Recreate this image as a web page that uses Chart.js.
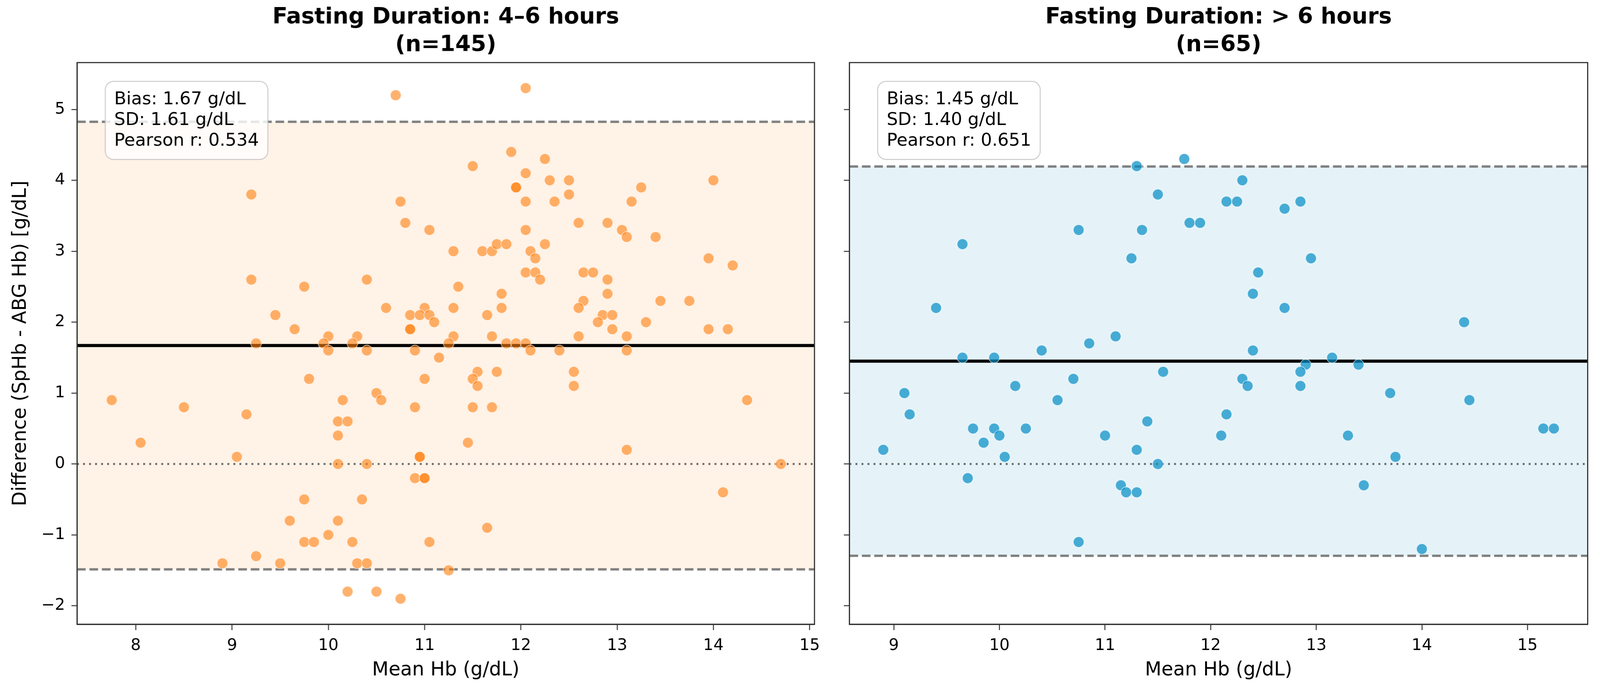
<!DOCTYPE html>
<html>
<head>
<meta charset="utf-8">
<script src="https://cdn.jsdelivr.net/npm/chart.js@4.4.1/dist/chart.umd.min.js"></script>
<style>
  html, body { margin: 0; padding: 0; background: #fff; overflow: hidden; }
  #wrap { position: relative; }
  .panel { position: absolute; top: 0; }
</style>
</head>
<body>
<div id="wrap">
  <div class="panel" id="left"><canvas id="chartShort"></canvas></div>
  <div class="panel" id="right"><canvas id="chartLong"></canvas></div>
</div>
<script>
// Fasting 4-6 hours (n=145): mean Hb vs difference SpHb - ABG Hb
const shortMean = [10.7, 9.2, 10.75, 10.8, 11.05, 9.2, 9.75, 10.4, 10.6, 9.45, 10.85, 11.0, 10.95, 11.05, 11.1, 9.65, 10.85, 10.85, 10.0, 10.3, 9.95, 10.25, 9.25,
  12.05, 11.9, 11.5, 12.25, 12.05, 11.95, 11.95, 12.3, 12.5, 12.5, 12.05, 12.35, 13.25, 13.15, 14.0, 12.6, 12.9, 13.05, 13.1, 13.4,
  12.05, 11.3, 11.6, 11.7, 11.75, 11.85, 12.1, 12.15, 12.25, 13.95, 14.2, 12.05, 12.15, 12.2, 12.65, 12.75, 12.9, 11.35, 11.8, 12.9,
  11.3, 11.8, 11.65, 12.65, 12.6, 13.45, 13.75, 12.85, 12.95, 12.8, 13.3, 12.95, 13.95, 14.15, 11.3, 11.7, 12.6, 13.1, 11.25, 11.85,
  11.95, 12.05, 12.1, 12.4, 13.1,
  10.0, 10.4, 10.9, 11.15, 9.8, 11.0, 7.75, 8.5, 9.15, 10.15, 10.5, 10.55, 10.9, 10.1, 10.2, 10.1, 8.05, 9.05, 10.1, 10.4,
  10.95, 10.95, 10.9, 11.0, 11.0, 9.75, 10.35, 9.6, 10.1, 10.0, 9.75, 9.85, 10.25, 11.05, 9.25, 8.9, 9.5, 10.3, 10.4, 11.25,
  10.2, 10.5, 10.75,
  11.55, 11.5, 11.55, 11.75, 12.55, 12.55, 14.35, 11.5, 11.7, 11.45, 13.1, 14.7, 14.1, 11.65];
const shortDiff = [5.2, 3.8, 3.7, 3.4, 3.3, 2.6, 2.5, 2.6, 2.2, 2.1, 2.1, 2.2, 2.1, 2.1, 2.0, 1.9, 1.9, 1.9, 1.8, 1.8, 1.7, 1.7, 1.7,
  5.3, 4.4, 4.2, 4.3, 4.1, 3.9, 3.9, 4.0, 4.0, 3.8, 3.7, 3.7, 3.9, 3.7, 4.0, 3.4, 3.4, 3.3, 3.2, 3.2,
  3.3, 3.0, 3.0, 3.0, 3.1, 3.1, 3.0, 2.9, 3.1, 2.9, 2.8, 2.7, 2.7, 2.6, 2.7, 2.7, 2.6, 2.5, 2.4, 2.4,
  2.2, 2.2, 2.1, 2.3, 2.2, 2.3, 2.3, 2.1, 2.1, 2.0, 2.0, 1.9, 1.9, 1.9, 1.8, 1.8, 1.8, 1.8, 1.7, 1.7,
  1.7, 1.7, 1.6, 1.6, 1.6,
  1.6, 1.6, 1.6, 1.5, 1.2, 1.2, 0.9, 0.8, 0.7, 0.9, 1.0, 0.9, 0.8, 0.6, 0.6, 0.4, 0.3, 0.1, 0.0, 0.0,
  0.1, 0.1, -0.2, -0.2, -0.2, -0.5, -0.5, -0.8, -0.8, -1.0, -1.1, -1.1, -1.1, -1.1, -1.3, -1.4, -1.4, -1.4, -1.4, -1.5,
  -1.8, -1.8, -1.9,
  1.3, 1.2, 1.1, 1.3, 1.3, 1.1, 0.9, 0.8, 0.8, 0.3, 0.2, 0.0, -0.4, -0.9];

// Fasting > 6 hours (n=65)
const longMean = [11.75, 11.3, 11.5, 11.8, 11.9, 10.75, 11.35, 9.65, 11.25, 9.4, 11.1, 10.85, 10.4,
  12.3, 12.15, 12.25, 12.7, 12.85, 12.95, 12.45, 12.4, 12.7, 14.4, 12.4,
  9.65, 9.95, 11.55, 10.7, 10.15, 10.55, 9.1, 9.15, 9.75, 9.95, 10.0, 10.25, 9.85, 8.9, 10.05, 11.0, 11.4, 11.3, 11.5, 12.1,
  9.7, 11.15, 11.2, 11.3, 10.75,
  13.15, 12.9, 13.4, 12.85, 12.3, 12.35, 12.85, 13.7, 14.45, 12.15, 13.3, 15.15, 15.25, 13.75, 13.45, 14.0];
const longDiff = [4.3, 4.2, 3.8, 3.4, 3.4, 3.3, 3.3, 3.1, 2.9, 2.2, 1.8, 1.7, 1.6,
  4.0, 3.7, 3.7, 3.6, 3.7, 2.9, 2.7, 2.4, 2.2, 2.0, 1.6,
  1.5, 1.5, 1.3, 1.2, 1.1, 0.9, 1.0, 0.7, 0.5, 0.5, 0.4, 0.5, 0.3, 0.2, 0.1, 0.4, 0.6, 0.2, 0.0, 0.4,
  -0.2, -0.3, -0.4, -0.4, -1.1,
  1.5, 1.4, 1.4, 1.3, 1.2, 1.1, 1.1, 1.0, 0.9, 0.7, 0.4, 0.5, 0.5, 0.1, -0.3, -1.2];

// summary stats printed in the boxes
const shortStats = { bias: 1.67, sd: 1.61, r: 0.534 };
const longStats = { bias: 1.45, sd: 1.40, r: 0.651 };

const shortTitle = ['Fasting Duration: 4\u20136 hours', '(n=145)'];
const longTitle = ['Fasting Duration: > 6 hours', '(n=65)'];

const shortXRange = [7.39, 15.05];
const longXRange = [8.58, 15.57];
const yRange = [-2.26, 5.66];

// laid out for a 4259 x 1774 page, stretched to whatever the viewport really is
const Sx = window.innerWidth / 4259;
const Sy = window.innerHeight / 1774;
const Sf = Math.sqrt(Sx * Sy);
const hx = v => v * Sx;
const vy = v => v * Sy;
const fs = v => v * Sf;

const wrap = document.getElementById('wrap');
wrap.style.width = hx(4259) + 'px';
wrap.style.height = vy(1774) + 'px';
const leftPanel = document.getElementById('left');
leftPanel.style.left = '0px';
leftPanel.style.width = hx(2200) + 'px';
leftPanel.style.height = vy(1774) + 'px';
const rightPanel = document.getElementById('right');
rightPanel.style.left = hx(2200) + 'px';
rightPanel.style.width = hx(2059) + 'px';
rightPanel.style.height = vy(1774) + 'px';

Chart.defaults.font.family = "'DejaVu Sans', sans-serif";
Chart.defaults.color = '#000';

const fmtTick = v => (v < 0 ? '\u2212' + Math.abs(v) : String(v));

// rounded stats box in the upper left corner
const statsBox = {
  id: 'statsBox',
  afterDatasetsDraw(chart, args, opts) {
    const { ctx, chartArea } = chart;
    const lines = opts.lines;
    ctx.save();
    ctx.font = fs(46) + "px 'DejaVu Sans', sans-serif";
    let w = 0;
    lines.forEach(l => { w = Math.max(w, ctx.measureText(l).width); });
    const tx = chartArea.left + hx(99);
    const bx = tx - hx(24), by = chartArea.top + vy(48);
    const bw = w + hx(48), bh = vy(200), r = fs(22);
    ctx.beginPath();
    ctx.moveTo(bx + r, by);
    ctx.arcTo(bx + bw, by, bx + bw, by + bh, r);
    ctx.arcTo(bx + bw, by + bh, bx, by + bh, r);
    ctx.arcTo(bx, by + bh, bx, by, r);
    ctx.arcTo(bx, by, bx + bw, by, r);
    ctx.closePath();
    ctx.fillStyle = 'rgba(255,255,255,0.8)';
    ctx.fill();
    ctx.lineWidth = fs(2.5);
    ctx.strokeStyle = 'rgba(190,190,190,0.8)';
    ctx.stroke();
    ctx.fillStyle = '#000';
    ctx.textBaseline = 'alphabetic';
    lines.forEach((l, i) => ctx.fillText(l, tx, chartArea.top + vy(107 + i * 53)));
    ctx.restore();
  }
};

// full axes frame (top and right spines too)
const frame = {
  id: 'frame',
  afterDraw(chart) {
    const { ctx, chartArea } = chart;
    ctx.save();
    ctx.strokeStyle = '#333';
    ctx.lineWidth = fs(3);
    ctx.strokeRect(chartArea.left, chartArea.top, chartArea.right - chartArea.left, chartArea.bottom - chartArea.top);
    ctx.restore();
  }
};

function hline(xr, y) {
  return [{ x: xr[0], y: y }, { x: xr[1], y: y }];
}

function baPlot(canvasId, means, diffs, stats, title, xr, color, band, yWidth, showYLabels) {
  const points = means.map((m, i) => ({ x: m, y: diffs[i] }));
  const upper = stats.bias + 1.96 * stats.sd;
  const lower = stats.bias - 1.96 * stats.sd;
  const dash = [hx(23), hx(10)];

  return new Chart(document.getElementById(canvasId), {
    type: 'scatter',
    data: {
      datasets: [
        {
          data: points,
          pointRadius: fs(14),
          pointHoverRadius: fs(14),
          backgroundColor: color,
          borderColor: 'rgba(255,255,255,0.6)',
          borderWidth: fs(2)
        },
        { type: 'line', data: hline(xr, stats.bias), borderColor: '#000', borderWidth: vy(8), pointRadius: 0 },
        { type: 'line', data: hline(xr, 0), borderColor: 'rgba(80,80,80,0.85)', borderWidth: vy(5), borderDash: [hx(5), hx(11)], pointRadius: 0 },
        { type: 'line', data: hline(xr, upper), borderColor: '#808080', borderWidth: vy(6), borderDash: dash, pointRadius: 0, fill: '+1', backgroundColor: band },
        { type: 'line', data: hline(xr, lower), borderColor: '#808080', borderWidth: vy(6), borderDash: dash, pointRadius: 0 }
      ]
    },
    options: {
      responsive: true,
      maintainAspectRatio: false,
      animation: false,
      layout: { padding: { left: 0, right: hx(33), top: 0, bottom: 0 } },
      plugins: {
        legend: { display: false },
        tooltip: { enabled: false },
        filler: { drawTime: 'beforeDatasetsDraw' },
        title: {
          display: true,
          text: title,
          fullSize: false,
          color: '#000',
          font: { size: fs(58), weight: 'bold', lineHeight: 1.25 },
          padding: { top: vy(10), bottom: vy(8) }
        },
        statsBox: {
          lines: [
            'Bias: ' + stats.bias.toFixed(2) + ' g/dL',
            'SD: ' + stats.sd.toFixed(2) + ' g/dL',
            'Pearson r: ' + stats.r.toFixed(3)
          ]
        }
      },
      scales: {
        x: {
          type: 'linear',
          min: xr[0],
          max: xr[1],
          ticks: { stepSize: 1, includeBounds: false, font: { size: fs(42) }, color: '#000', padding: vy(16), maxRotation: 0, callback: fmtTick },
          grid: { drawOnChartArea: false, tickLength: vy(15), tickWidth: fs(2.5), tickColor: '#333' },
          border: { color: '#333', width: fs(3) },
          title: { display: true, text: 'Mean Hb (g/dL)', font: { size: fs(50) }, color: '#000', padding: { top: 0, bottom: vy(28) } },
          afterFit(scale) { scale.height = vy(176); }
        },
        y: {
          min: yRange[0],
          max: yRange[1],
          ticks: {
            stepSize: 1, includeBounds: false, font: { size: fs(42) }, color: '#000', padding: hx(17),
            callback: v => (showYLabels ? fmtTick(v) : '')
          },
          grid: { drawOnChartArea: false, tickLength: hx(15), tickWidth: fs(2.5), tickColor: '#333' },
          border: { color: '#333', width: fs(3) },
          title: {
            display: showYLabels,
            text: 'Difference (SpHb - ABG Hb) [g/dL]',
            font: { size: fs(50) }, color: '#000',
            padding: { top: hx(25), bottom: 0 }
          },
          afterFit(scale) { scale.width = hx(yWidth); }
        }
      }
    },
    plugins: [statsBox, frame]
  });
}

baPlot('chartShort', shortMean, shortDiff, shortStats, shortTitle, shortXRange,
  'rgba(255,127,14,0.6)', 'rgba(255,127,14,0.1)', 205, true);
baPlot('chartLong', longMean, longDiff, longStats, longTitle, longXRange,
  'rgba(0,140,195,0.7)', 'rgba(0,140,195,0.1)', 61, false);
</script>
</body>
</html>
